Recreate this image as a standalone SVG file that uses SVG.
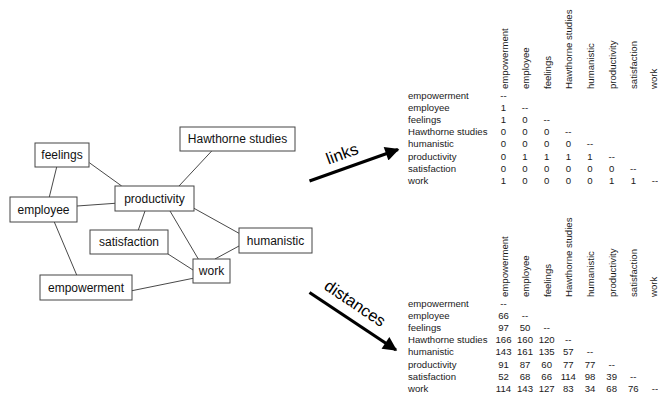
<svg xmlns="http://www.w3.org/2000/svg" width="658" height="398" viewBox="0 0 658 398">
<defs>
<style>
.box{fill:#fff;stroke:#454545;stroke-width:1}
.nt{font-family:"Liberation Sans",Arial,sans-serif;font-size:12px;fill:#111;text-anchor:middle}
.edge{stroke:#333;stroke-width:0.9;fill:none}
.tl{font-family:"Liberation Sans",Arial,sans-serif;font-size:9.6px;fill:#1a1a1a}
.tv{font-family:"Liberation Sans",Arial,sans-serif;font-size:9.6px;fill:#1a1a1a;text-anchor:middle}
.arr{stroke:#000;stroke-width:3.2;fill:none}
.al{font-family:"Liberation Sans",Arial,sans-serif;font-size:16.5px;fill:#000;text-anchor:middle}
</style>
<marker id="ah" viewBox="0 0 10 10" refX="9" refY="5" markerWidth="5" markerHeight="4.4" markerUnits="strokeWidth" orient="auto">
<path d="M0,0 L10,5 L0,10 z" fill="#000"/>
</marker>
</defs>

<g id="connectors">
<line class="edge" x1="89.3" y1="162.7" x2="121.7" y2="186"/>
<line class="edge" x1="211.7" y1="151" x2="179" y2="186"/>
<line class="edge" x1="56.7" y1="167" x2="49.3" y2="197"/>
<line class="edge" x1="77" y1="206" x2="115" y2="203.3"/>
<line class="edge" x1="145" y1="211" x2="138.3" y2="230"/>
<line class="edge" x1="170" y1="211" x2="198.3" y2="259"/>
<line class="edge" x1="194" y1="208.3" x2="239" y2="233.3"/>
<line class="edge" x1="168" y1="254" x2="193" y2="270"/>
<line class="edge" x1="239" y1="246" x2="215" y2="259"/>
<line class="edge" x1="54.3" y1="222" x2="76.7" y2="275"/>
<line class="edge" x1="132" y1="290.7" x2="193" y2="278.3"/>
<line class="arr" x1="309.5" y1="181" x2="398" y2="149.5" marker-end="url(#ah)"/>
<line class="arr" x1="309.5" y1="292.5" x2="396" y2="350" marker-end="url(#ah)"/>
</g>

<g id="node-feelings"><rect class="box" x="35" y="143" width="54" height="24"/><text class="nt" x="62" y="159">feelings</text></g>
<g id="node-hawthorne"><rect class="box" x="180" y="127" width="115" height="24"/><text class="nt" x="237.5" y="143">Hawthorne studies</text></g>
<g id="node-productivity"><rect class="box" x="115" y="186" width="79" height="25"/><text class="nt" x="154.5" y="202.5">productivity</text></g>
<g id="node-employee"><rect class="box" x="10" y="197" width="67" height="25"/><text class="nt" x="43.5" y="213.5">employee</text></g>
<g id="node-satisfaction"><rect class="box" x="90" y="230" width="78" height="24"/><text class="nt" x="129" y="246">satisfaction</text></g>
<g id="node-humanistic"><rect class="box" x="239" y="228" width="73" height="25"/><text class="nt" x="275.5" y="244.5">humanistic</text></g>
<g id="node-work"><rect class="box" x="193" y="259" width="37" height="24"/><text class="nt" x="211.5" y="275">work</text></g>
<g id="node-empowerment"><rect class="box" x="40" y="275" width="92" height="25"/><text class="nt" x="86" y="291.5">empowerment</text></g>

<g id="label-links"><text class="al" transform="translate(344,159) rotate(-20)">links</text></g>
<g id="label-distances"><text class="al" transform="translate(352,308) rotate(34)">distances</text></g>

<g id="table-links">
<text class="tl" transform="translate(507.5,89) rotate(-90)">empowerment</text>
<text class="tl" transform="translate(529,89) rotate(-90)">employee</text>
<text class="tl" transform="translate(550.7,89) rotate(-90)">feelings</text>
<text class="tl" transform="translate(572.3,89) rotate(-90)">Hawthorne studies</text>
<text class="tl" transform="translate(594,89) rotate(-90)">humanistic</text>
<text class="tl" transform="translate(615.7,89) rotate(-90)">productivity</text>
<text class="tl" transform="translate(637.3,89) rotate(-90)">satisfaction</text>
<text class="tl" transform="translate(657,89) rotate(-90)">work</text>
<text class="tl" x="408" y="98.5">empowerment</text>
<text class="tl" x="408" y="110.7">employee</text>
<text class="tl" x="408" y="122.9">feelings</text>
<text class="tl" x="408" y="135.1">Hawthorne studies</text>
<text class="tl" x="408" y="147.3">humanistic</text>
<text class="tl" x="408" y="159.5">productivity</text>
<text class="tl" x="408" y="171.7">satisfaction</text>
<text class="tl" x="408" y="183.9">work</text>
<text class="tv" x="503.5" y="98.5">--</text>
<text class="tv" x="503.5" y="110.7">1</text><text class="tv" x="525" y="110.7">--</text>
<text class="tv" x="503.5" y="122.9">1</text><text class="tv" x="525" y="122.9">0</text><text class="tv" x="546.7" y="122.9">--</text>
<text class="tv" x="503.5" y="135.1">0</text><text class="tv" x="525" y="135.1">0</text><text class="tv" x="546.7" y="135.1">0</text><text class="tv" x="568.3" y="135.1">--</text>
<text class="tv" x="503.5" y="147.3">0</text><text class="tv" x="525" y="147.3">0</text><text class="tv" x="546.7" y="147.3">0</text><text class="tv" x="568.3" y="147.3">0</text><text class="tv" x="590" y="147.3">--</text>
<text class="tv" x="503.5" y="159.5">0</text><text class="tv" x="525" y="159.5">1</text><text class="tv" x="546.7" y="159.5">1</text><text class="tv" x="568.3" y="159.5">1</text><text class="tv" x="590" y="159.5">1</text><text class="tv" x="611.7" y="159.5">--</text>
<text class="tv" x="503.5" y="171.7">0</text><text class="tv" x="525" y="171.7">0</text><text class="tv" x="546.7" y="171.7">0</text><text class="tv" x="568.3" y="171.7">0</text><text class="tv" x="590" y="171.7">0</text><text class="tv" x="611.7" y="171.7">0</text><text class="tv" x="633.3" y="171.7">--</text>
<text class="tv" x="503.5" y="183.9">1</text><text class="tv" x="525" y="183.9">0</text><text class="tv" x="546.7" y="183.9">0</text><text class="tv" x="568.3" y="183.9">0</text><text class="tv" x="590" y="183.9">0</text><text class="tv" x="611.7" y="183.9">1</text><text class="tv" x="633.3" y="183.9">1</text><text class="tv" x="655" y="183.9">--</text>
</g>

<g id="table-distances">
<text class="tl" transform="translate(507.5,297) rotate(-90)">empowerment</text>
<text class="tl" transform="translate(529,297) rotate(-90)">employee</text>
<text class="tl" transform="translate(550.7,297) rotate(-90)">feelings</text>
<text class="tl" transform="translate(572.3,297) rotate(-90)">Hawthorne studies</text>
<text class="tl" transform="translate(594,297) rotate(-90)">humanistic</text>
<text class="tl" transform="translate(615.7,297) rotate(-90)">productivity</text>
<text class="tl" transform="translate(637.3,297) rotate(-90)">satisfaction</text>
<text class="tl" transform="translate(657,297) rotate(-90)">work</text>
<text class="tl" x="408" y="306.5">empowerment</text>
<text class="tl" x="408" y="318.7">employee</text>
<text class="tl" x="408" y="330.9">feelings</text>
<text class="tl" x="408" y="343.1">Hawthorne studies</text>
<text class="tl" x="408" y="355.3">humanistic</text>
<text class="tl" x="408" y="367.5">productivity</text>
<text class="tl" x="408" y="379.7">satisfaction</text>
<text class="tl" x="408" y="391.9">work</text>
<text class="tv" x="503.5" y="306.5">--</text>
<text class="tv" x="503.5" y="318.7">66</text><text class="tv" x="525" y="318.7">--</text>
<text class="tv" x="503.5" y="330.9">97</text><text class="tv" x="525" y="330.9">50</text><text class="tv" x="546.7" y="330.9">--</text>
<text class="tv" x="503.5" y="343.1">166</text><text class="tv" x="525" y="343.1">160</text><text class="tv" x="546.7" y="343.1">120</text><text class="tv" x="568.3" y="343.1">--</text>
<text class="tv" x="503.5" y="355.3">143</text><text class="tv" x="525" y="355.3">161</text><text class="tv" x="546.7" y="355.3">135</text><text class="tv" x="568.3" y="355.3">57</text><text class="tv" x="590" y="355.3">--</text>
<text class="tv" x="503.5" y="367.5">91</text><text class="tv" x="525" y="367.5">87</text><text class="tv" x="546.7" y="367.5">60</text><text class="tv" x="568.3" y="367.5">77</text><text class="tv" x="590" y="367.5">77</text><text class="tv" x="611.7" y="367.5">--</text>
<text class="tv" x="503.5" y="379.7">52</text><text class="tv" x="525" y="379.7">68</text><text class="tv" x="546.7" y="379.7">66</text><text class="tv" x="568.3" y="379.7">114</text><text class="tv" x="590" y="379.7">98</text><text class="tv" x="611.7" y="379.7">39</text><text class="tv" x="633.3" y="379.7">--</text>
<text class="tv" x="503.5" y="391.9">114</text><text class="tv" x="525" y="391.9">143</text><text class="tv" x="546.7" y="391.9">127</text><text class="tv" x="568.3" y="391.9">83</text><text class="tv" x="590" y="391.9">34</text><text class="tv" x="611.7" y="391.9">68</text><text class="tv" x="633.3" y="391.9">76</text><text class="tv" x="655" y="391.9">--</text>
</g>
</svg>
